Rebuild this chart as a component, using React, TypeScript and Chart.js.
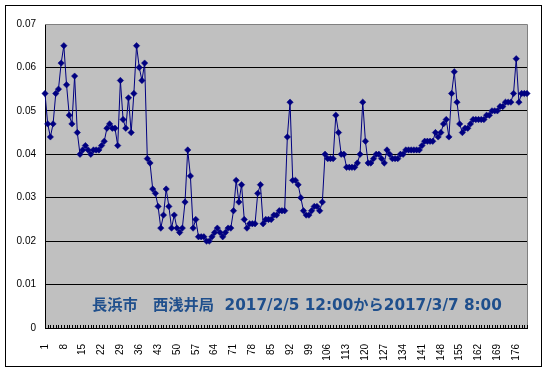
import React, { useEffect, useRef } from "react";
import { Chart, registerables } from "chart.js";

Chart.register(...registerables);

// Concentration (ppm), every 4 hours from 2017/2/5 12:00 to 2017/3/7 8:00
const VALUES: number[] = [
  0.054, 0.047, 0.044, 0.047, 0.054, 0.055, 0.061, 0.065, 0.056, 0.049,
  0.047, 0.058, 0.045, 0.040, 0.041, 0.042, 0.041, 0.040, 0.041, 0.041,
  0.041, 0.042, 0.043, 0.046, 0.047, 0.046, 0.046, 0.042, 0.057, 0.048,
  0.046, 0.053, 0.045, 0.054, 0.065, 0.060, 0.057, 0.061, 0.039, 0.038,
  0.032, 0.031, 0.028, 0.023, 0.026, 0.032, 0.028, 0.023, 0.026, 0.023,
  0.022, 0.023, 0.029, 0.041, 0.035, 0.023, 0.025, 0.021, 0.021, 0.021,
  0.020, 0.020, 0.021, 0.022, 0.023, 0.022, 0.021, 0.022, 0.023, 0.023,
  0.027, 0.034, 0.029, 0.033, 0.025, 0.023, 0.024, 0.024, 0.024, 0.031,
  0.033, 0.024, 0.025, 0.025, 0.025, 0.026, 0.026, 0.027, 0.027, 0.027,
  0.044, 0.052, 0.034, 0.034, 0.033, 0.030, 0.027, 0.026, 0.026, 0.027,
  0.028, 0.028, 0.027, 0.029, 0.040, 0.039, 0.039, 0.039, 0.049, 0.045,
  0.040, 0.040, 0.037, 0.037, 0.037, 0.037, 0.038, 0.040, 0.052, 0.043,
  0.038, 0.038, 0.039, 0.040, 0.040, 0.039, 0.038, 0.041, 0.040, 0.039,
  0.039, 0.039, 0.040, 0.040, 0.041, 0.041, 0.041, 0.041, 0.041, 0.041,
  0.042, 0.043, 0.043, 0.043, 0.043, 0.045, 0.044, 0.045, 0.047, 0.048,
  0.044, 0.054, 0.059, 0.052, 0.047, 0.045, 0.046, 0.046, 0.047, 0.048,
  0.048, 0.048, 0.048, 0.048, 0.049, 0.049, 0.050, 0.050, 0.050, 0.051,
  0.051, 0.052, 0.052, 0.052, 0.054, 0.062, 0.052, 0.054, 0.054, 0.054,
];

const CATEGORIES: string[] = VALUES.map((_, i) => String(i + 1));
const X_LABEL_STEP = 7;
const Y_MIN = 0;
const Y_MAX = 0.07;
const Y_STEP = 0.01;
const CAPTION = "長浜市　西浅井局  2017/2/5 12:00から2017/3/7 8:00";

const plotDecor = {
  id: "plotDecor",
  beforeDraw(chart: any) {
    const { ctx, chartArea: a } = chart;
    ctx.save();
    ctx.fillStyle = "#C0C0C0";
    ctx.fillRect(a.left, a.top, a.right - a.left, a.bottom - a.top);
    ctx.restore();
  },
  beforeDatasetsDraw(chart: any) {
    const { ctx, chartArea: a, scales } = chart;
    ctx.save();
    ctx.lineWidth = 1;
    ctx.strokeStyle = "#808080";
    ctx.beginPath();
    ctx.moveTo(a.left, Math.round(a.top) + 0.5);
    ctx.lineTo(Math.round(a.right) + 0.5, Math.round(a.top) + 0.5);
    ctx.lineTo(Math.round(a.right) + 0.5, a.bottom);
    ctx.stroke();
    ctx.strokeStyle = "#000000";
    ctx.beginPath();
    const xs = scales.x;
    for (let i = 0; i < CATEGORIES.length; i++) {
      const px = Math.round(xs.getPixelForValue(i)) + 0.5;
      ctx.moveTo(px, a.bottom);
      ctx.lineTo(px, a.bottom - 3);
    }
    ctx.stroke();
    ctx.restore();
  },
};

export default function App() {
  const ref = useRef<HTMLCanvasElement | null>(null);

  useEffect(() => {
    if (!ref.current) return;
    Chart.defaults.font.family = "'Liberation Sans', Arial, sans-serif";
    Chart.defaults.font.size = 10;
    Chart.defaults.color = "#000000";
    const chart = new Chart(ref.current, {
      type: "line",
      data: {
        labels: CATEGORIES,
        datasets: [
          {
            data: VALUES,
            borderColor: "#000080",
            backgroundColor: "#000080",
            borderWidth: 1,
            pointStyle: "rectRot",
            pointRadius: 3.2,
            pointBorderWidth: 0.5,
            pointBackgroundColor: "#000080",
            pointBorderColor: "#000080",
            tension: 0,
            clip: false as any,
          },
        ],
      },
      options: {
        animation: false,
        responsive: false,
        maintainAspectRatio: false,
        layout: { padding: { left: 0, top: 24, right: 15, bottom: 0 } },
        plugins: { legend: { display: false }, tooltip: { enabled: false } },
        scales: {
          x: {
            type: "category",
            offset: false,
            grid: { display: false },
            border: { display: true, color: "#000000", width: 1 },
            ticks: {
              autoSkip: false,
              maxRotation: 90,
              minRotation: 90,
              padding: 8,
              font: { size: 10 },
              callback: (_v: any, i: number) =>
                i % X_LABEL_STEP === 0 ? CATEGORIES[i] : "",
            },
            afterFit: (s: any) => {
              s.height = 44;
            },
          },
          y: {
            min: Y_MIN,
            max: Y_MAX,
            grid: {
              drawTicks: false,
              color: (c: any) =>
                c.tick && c.tick.value > Y_MAX - Y_STEP / 2
                  ? "rgba(0,0,0,0)"
                  : "#000000",
              lineWidth: 1,
            },
            border: { display: true, color: "#000000", width: 1 },
            ticks: {
              stepSize: Y_STEP,
              padding: 9,
              font: { size: 10 },
              callback: (v: any) => {
                const n = Number(Number(v).toFixed(2));
                return n === 0 ? "0" : n.toFixed(2);
              },
            },
            afterFit: (s: any) => {
              s.width = 45;
            },
          },
        },
      },
      plugins: [plotDecor],
    });
    return () => chart.destroy();
  }, []);

  return (
    <div
      style={{
        position: "absolute",
        left: 0,
        top: 0,
        width: 547,
        height: 372,
        overflow: "hidden",
        background: "#ffffff",
      }}
    >
      <div
        style={{
          position: "absolute",
          left: 5,
          top: 5,
          width: 537,
          height: 362,
          boxSizing: "border-box",
          border: "1px solid #000000",
        }}
      />
      <canvas
        ref={ref}
        width={547}
        height={372}
        style={{ position: "absolute", left: 0, top: 0, width: 547, height: 372 }}
      />
      <div
        style={{
          position: "absolute",
          left: 92,
          top: 296,
          whiteSpace: "pre",
          fontFamily: "'DejaVu Sans', 'Noto Sans CJK JP', sans-serif",
          fontWeight: 700,
          fontSize: 15.25,
          lineHeight: "18px",
          color: "#1F4F8C",
        }}
      >
        {CAPTION}
      </div>
    </div>
  );
}
